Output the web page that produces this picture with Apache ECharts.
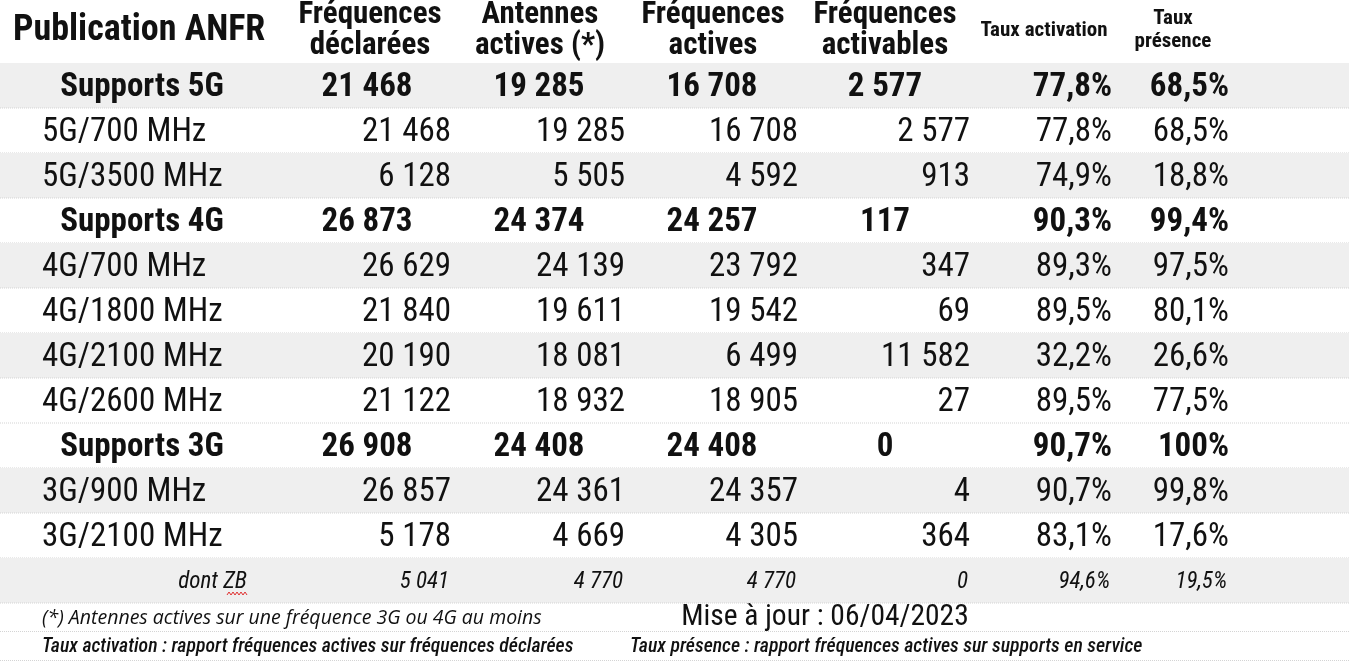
<!DOCTYPE html>
<html>
<head>
<meta charset="utf-8">
<title>Publication ANFR</title>
<script src="https://cdn.jsdelivr.net/npm/echarts@6/dist/echarts.min.js"></script>
<style>
  html, body { margin: 0; padding: 0; background: #fff; }
  #main { width: 1349px; height: 666px; }
</style>
</head>
<body>
<div id="main"></div>
<script>
// données du tableau
var columns = ['Publication ANFR', 'Fréquences\ndéclarées', 'Antennes\nactives (*)', 'Fréquences\nactives', 'Fréquences\nactivables', 'Taux activation', 'Taux\nprésence'];
var rowLabels = ['Supports 5G', '5G/700 MHz', '5G/3500 MHz', 'Supports 4G', '4G/700 MHz', '4G/1800 MHz', '4G/2100 MHz', '4G/2600 MHz', 'Supports 3G', '3G/900 MHz', '3G/2100 MHz', 'dont ZB'];
var rowKind = ['total', 'band', 'band', 'total', 'band', 'band', 'band', 'band', 'total', 'band', 'band', 'zb'];
var rowShaded = [1, 0, 1, 0, 1, 0, 1, 0, 0, 1, 0, 1];
var declarees = [21468, 21468, 6128, 26873, 26629, 21840, 20190, 21122, 26908, 26857, 5178, 5041];
var antennes = [19285, 19285, 5505, 24374, 24139, 19611, 18081, 18932, 24408, 24361, 4669, 4770];
var actives = [16708, 16708, 4592, 24257, 23792, 19542, 6499, 18905, 24408, 24357, 4305, 4770];
var activables = [2577, 2577, 913, 117, 347, 69, 11582, 27, 0, 4, 364, 0];
var tauxActivation = [77.8, 77.8, 74.9, 90.3, 89.3, 89.5, 32.2, 89.5, 90.7, 90.7, 83.1, 94.6];
var tauxPresence = [68.5, 68.5, 18.8, 99.4, 97.5, 80.1, 26.6, 77.5, 100, 99.8, 17.6, 19.5];
var noteAntennes = '(*) Antennes actives sur une fréquence 3G ou 4G au moins';
var noteMaj = 'Mise à jour : 06/04/2023';
var noteActivation = 'Taux activation : rapport fréquences actives sur fréquences déclarées';
var notePresence = 'Taux présence : rapport fréquences actives sur supports en service';

var FONT = '"Roboto Condensed", "Liberation Sans Narrow", Roboto, sans-serif';
var LINE = '#d4d4d4';
var SHADE = '#efefef';

function fmtInt(v) {
    return String(v).replace(/\B(?=(\d{3})+(?!\d))/g, ' ');
}
function fmtPct(v) {
    if (v === 100) return '100%';
    return v.toFixed(1).replace('.', ',') + '%';
}

// position des textes par colonne : [x, align] selon le type de ligne
var colPos = {
    total: [[142, 'center'], [367, 'center'], [539, 'center'], [712, 'center'], [885, 'center'], [1112, 'right'], [1229, 'right']],
    band:  [[42, 'left'], [451, 'right'], [625, 'right'], [798, 'right'], [970, 'right'], [1112, 'right'], [1229, 'right']],
    zb:    [[247, 'right'], [449, 'right'], [623, 'right'], [796, 'right'], [968, 'right'], [1110, 'right'], [1227, 'right']]
};
var fonts = {
    total: 'bold 33px ' + FONT,
    band: '33px ' + FONT,
    zb: 'italic 23px ' + FONT
};

var rows = rowLabels.map(function (label, i) {
    return [i, label];
});

var chart = echarts.init(document.getElementById('main'));

function renderRow(params, api) {
    var i = api.value(0);
    var kind = rowKind[i];
    var center = api.coord([0, i]);
    var h = api.size([0, 1])[1];
    var top = center[1] - h / 2;
    var width = params.coordSys.width;
    var texts = [
        rowLabels[i],
        fmtInt(declarees[i]),
        fmtInt(antennes[i]),
        fmtInt(actives[i]),
        fmtInt(activables[i]),
        fmtPct(tauxActivation[i]),
        fmtPct(tauxPresence[i])
    ];
    var children = [];
    if (rowShaded[i]) {
        children.push({
            type: 'rect',
            shape: { x: params.coordSys.x, y: top, width: width, height: h },
            style: { fill: SHADE }
        });
    }
    children.push({
        type: 'line',
        shape: { x1: params.coordSys.x, y1: top + h, x2: params.coordSys.x + width, y2: top + h },
        style: { stroke: LINE, lineWidth: 1, lineDash: [1, 1] }
    });
    texts.forEach(function (t, c) {
        var pos = colPos[kind][c];
        var px = api.coord([pos[0], i])[0];
        children.push({
            type: 'text',
            x: px,
            y: center[1] + 2,
            style: {
                text: t,
                font: fonts[kind],
                fill: '#111',
                align: pos[1],
                verticalAlign: 'middle'
            }
        });
    });
    // soulignement ondulé du correcteur sous "ZB"
    if (kind === 'zb') {
        var pts = [];
        for (var k = 0; k <= 10; k++) {
            pts.push([api.coord([227 + k * 2, i])[0], center[1] + 13 + (k % 2 ? -1.5 : 1.5)]);
        }
        children.push({
            type: 'polyline',
            shape: { points: pts },
            style: { stroke: '#e03030', lineWidth: 1, fill: null }
        });
    }
    return { type: 'group', children: children };
}

var headerText = function (text, x, y, font, align, lh) {
    return {
        type: 'text',
        x: x,
        y: y,
        style: {
            text: text,
            font: font,
            fill: '#111',
            align: align || 'center',
            verticalAlign: 'middle',
            lineHeight: lh || 31
        }
    };
};

var noteFont2 = 'italic 500 19.8px "Roboto Condensed", sans-serif';

option = {
    animation: false,
    backgroundColor: '#fff',
    grid: { left: 0, right: 0, top: 63, height: 540 },
    xAxis: { type: 'value', min: 0, max: 1349, show: false },
    yAxis: { type: 'category', data: rowLabels, inverse: true, show: false },
    graphic: [
        headerText(columns[0], 13, 31, 'bold 36px ' + FONT, 'left'),
        headerText(columns[1], 370, 31, 'bold 31px ' + FONT),
        headerText(columns[2], 540, 31, 'bold 31px ' + FONT),
        headerText(columns[3], 713, 31, 'bold 31px ' + FONT),
        headerText(columns[4], 885, 31, 'bold 31px ' + FONT),
        headerText(columns[5], 1044, 31, 'bold 21px ' + FONT),
        headerText(columns[6], 1173, 30, 'bold 21px ' + FONT, 'center', 23),
        { type: 'line', shape: { x1: 0, y1: 63.5, x2: 1349, y2: 63.5 }, style: { stroke: LINE, lineDash: [1, 1] } },
        headerText(noteAntennes, 42, 618, 'italic 19.5px "Open Sans", sans-serif', 'left'),
        headerText(noteMaj, 825, 618, '29.5px ' + FONT),
        { type: 'line', shape: { x1: 0, y1: 631.5, x2: 1349, y2: 631.5 }, style: { stroke: LINE, lineDash: [1, 1] } },
        headerText(noteActivation, 42, 647, noteFont2, 'left'),
        headerText(notePresence, 630, 647, noteFont2, 'left'),
        { type: 'line', shape: { x1: 0, y1: 660.5, x2: 1349, y2: 660.5 }, style: { stroke: LINE, lineDash: [1, 1] } }
    ],
    series: [{
        type: 'custom',
        renderItem: renderRow,
        data: rows,
        encode: { y: 0 },
        silent: true
    }]
};
chart.setOption(option);
</script>
</body>
</html>
